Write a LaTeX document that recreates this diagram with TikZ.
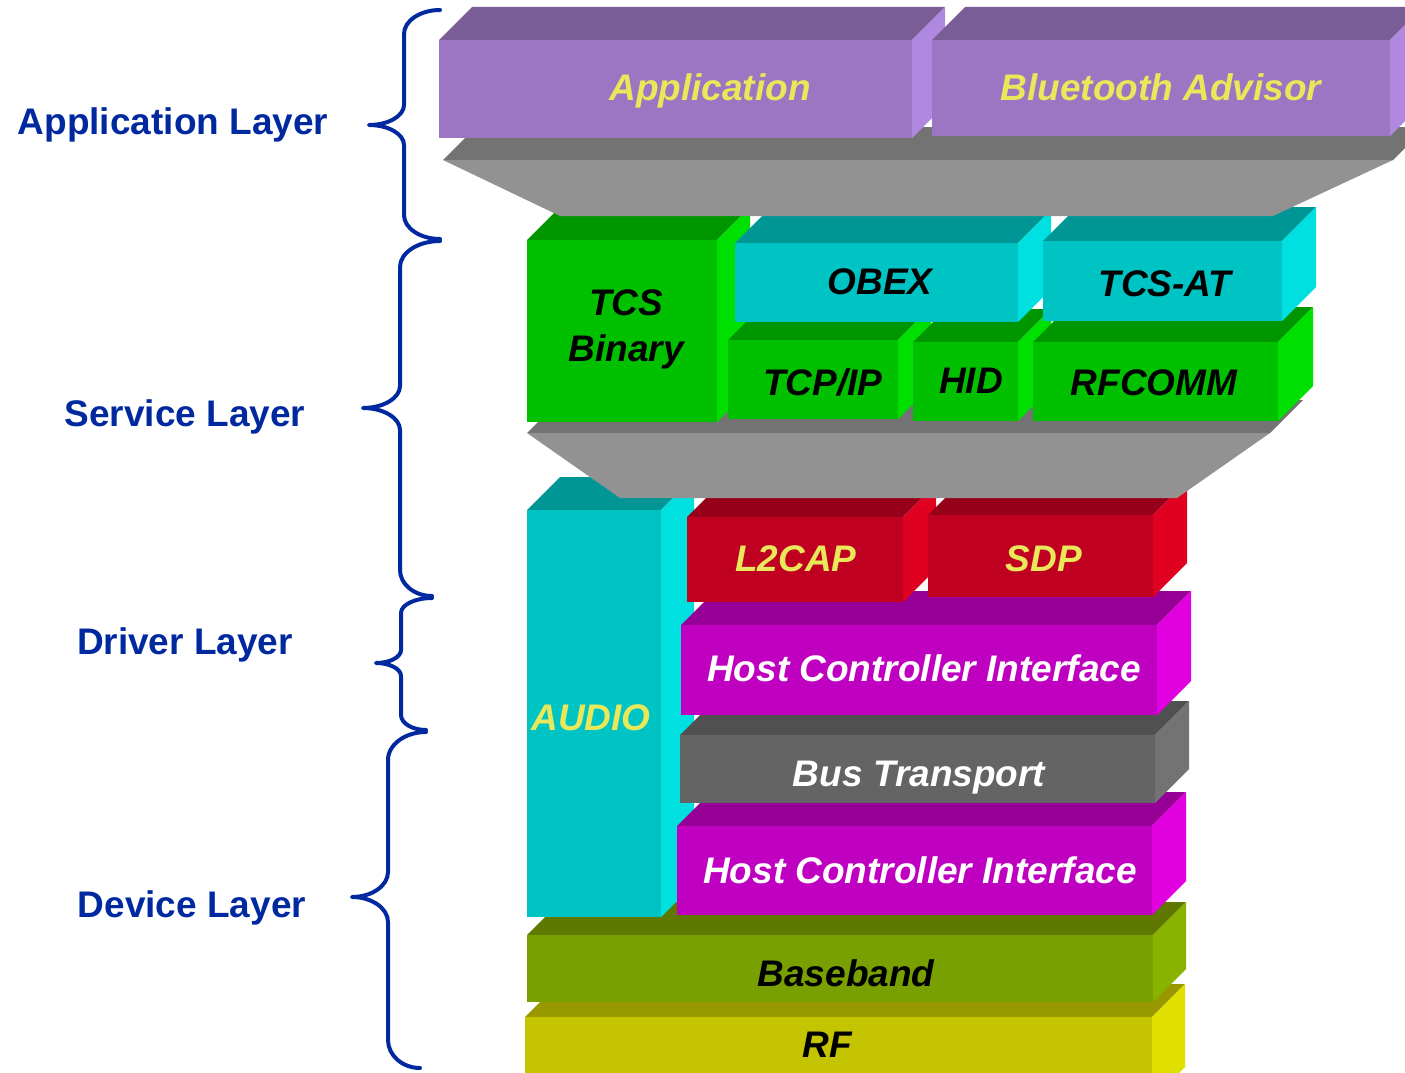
\documentclass[tikz,border=0pt]{standalone}
\usepackage{fontspec}
\setmainfont{Liberation Sans}
\definecolor{labelblue}{RGB}{0,41,160}
\definecolor{txtyellow}{RGB}{232,232,90}
\definecolor{appF}{RGB}{156,118,194}
\definecolor{appT}{RGB}{122,92,150}
\definecolor{appS}{RGB}{176,136,224}
\definecolor{grayT}{RGB}{115,115,115}
\definecolor{grayF}{RGB}{146,146,146}
\definecolor{grnF}{RGB}{0,192,0}
\definecolor{grnT}{RGB}{0,150,0}
\definecolor{grnS}{RGB}{0,224,0}
\definecolor{cynF}{RGB}{0,196,196}
\definecolor{cynT}{RGB}{0,150,150}
\definecolor{cynS}{RGB}{0,224,224}
\definecolor{redF}{RGB}{192,0,32}
\definecolor{redT}{RGB}{150,0,24}
\definecolor{redS}{RGB}{224,0,32}
\definecolor{magF}{RGB}{192,0,192}
\definecolor{magT}{RGB}{150,0,150}
\definecolor{magS}{RGB}{224,0,224}
\definecolor{busF}{RGB}{100,100,100}
\definecolor{busT}{RGB}{80,80,80}
\definecolor{busS}{RGB}{115,115,115}
\definecolor{bbF}{RGB}{120,160,0}
\definecolor{bbT}{RGB}{94,120,0}
\definecolor{bbS}{RGB}{136,180,0}
\definecolor{rfF}{RGB}{196,196,0}
\definecolor{rfT}{RGB}{152,152,0}
\definecolor{rfS}{RGB}{224,224,0}
\tikzset{
  lbl/.style={font=\fontsize{37}{40}\selectfont\bfseries, text=labelblue, inner sep=0pt, text height=26.5pt, text depth=0pt},
  boxtxt/.style={font=\fontsize{37}{40}\selectfont\bfseries\itshape, inner sep=0pt, text height=26.5pt, text depth=0pt},
  bracestyle/.style={draw=labelblue, line width=4pt, line cap=round, line join=round}
}
% 3D box: x1,y1 (front top-left), x2,y2 (front bottom-right), depth, front, top, side
\newcommand\layerbox[8]{%
  \fill[#7] (#1,#2) -- ({#1+#5},{#2-#5}) -- ({#3+#5},{#2-#5}) -- (#3,#2) -- cycle;
  \fill[#8] (#3,#2) -- ({#3+#5},{#2-#5}) -- ({#3+#5},{#4-#5}) -- (#3,#4) -- cycle;
  \fill[#6] (#1,#2) rectangle (#3,#4);
}
% brace: xtop, ytop, xspine, xtip, ymid, ybottom, end radius, xbottom, tip radius
\newcommand\bracepath[9]{%
  \draw[bracestyle] (#1,#2)
    .. controls ({#1-0.55*(#1-#3)},#2) and (#3,{#2+0.45*#7}) .. (#3,{#2+#7})
    -- (#3,{#5-#9})
    .. controls (#3,{#5-0.45*#9}) and ({#4+0.55*(#3-#4)},#5) .. (#4,#5)
    .. controls ({#4+0.55*(#3-#4)},#5) and (#3,{#5+0.45*#9}) .. (#3,{#5+#9})
    -- (#3,{#6-#7})
    .. controls (#3,{#6-0.45*#7}) and ({#8-0.55*(#8-#3)},#6) .. (#8,#6);
}
\begin{document}
\begin{tikzpicture}[x=1pt,y=-1pt]
\useasboundingbox (0,0) rectangle (1405,1073);
\clip (0,0) rectangle (1405,1073);

% ---- device / driver layers (bottom first)
\layerbox{525}{1017}{1152}{1100}{33}{rfF}{rfT}{rfS}
\layerbox{527}{935}{1153}{1002}{33}{bbF}{bbT}{bbS}
\layerbox{527}{510}{661}{917}{33}{cynF}{cynT}{cynS}
\layerbox{677}{826}{1152}{915}{34}{magF}{magT}{magS}
\layerbox{680}{735}{1155}{803}{34}{busF}{busT}{busS}
\layerbox{681}{625}{1157}{715}{34}{magF}{magT}{magS}
\layerbox{687}{517}{903}{602}{33}{redF}{redT}{redS}
\layerbox{928}{515}{1153}{597}{34}{redF}{redT}{redS}

% ---- lower gray platform
\fill[grayT] (527,433) -- (560,400) -- (1303,400) -- (1270,433) -- cycle;
\fill[grayF] (527,433) -- (1270,433) -- (1177,498) -- (620,498) -- cycle;

% ---- service boxes
\layerbox{527}{240}{717}{422}{33}{grnF}{grnT}{grnS}
\layerbox{728}{340}{898}{419}{33}{grnF}{grnT}{grnS}
\layerbox{913}{342}{1018}{421}{33}{grnF}{grnT}{grnS}
\layerbox{1033}{342}{1278}{421}{35}{grnF}{grnT}{grnS}
\layerbox{735}{243}{1018}{322}{33}{cynF}{cynT}{cynS}
\layerbox{1043}{241}{1282}{321}{34}{cynF}{cynT}{cynS}

% ---- upper gray platform
\fill[grayT] (443,160) -- (476,127) -- (1426,127) -- (1393,160) -- cycle;
\fill[grayF] (443,160) -- (1393,160) -- (1273,216) -- (560,216) -- cycle;

% ---- application boxes
\layerbox{439}{40}{912}{138}{33}{appF}{appT}{appS}
\layerbox{932}{40}{1390}{136}{33}{appF}{appT}{appS}

% ---- box texts
\node[boxtxt, text=txtyellow] (app) at (710,87) {Application};
\node[boxtxt, text=txtyellow] (bta) at (1161,87) {Bluetooth Advisor};
\node[boxtxt] (tcs1) at (626,302) {TCS};
\node[boxtxt] (tcs2) at (626,348) {Binary};
\node[boxtxt] (obex) at (880,281) {OBEX};
\node[boxtxt] (tcsat) at (1165,283) {TCS-AT};
\node[boxtxt] (tcpip) at (823,382) {TCP/IP};
\node[boxtxt] (hid) at (971,380) {HID};
\node[boxtxt] (rfcomm) at (1154,382) {RFCOMM};
\node[boxtxt, text=txtyellow] (audio) at (591,717) {AUDIO};
\node[boxtxt, text=txtyellow] (l2cap) at (796,558) {L2CAP};
\node[boxtxt, text=txtyellow] (sdp) at (1044,558) {SDP};
\node[boxtxt, text=white] (hci1) at (924,668) {Host Controller Interface};
\node[boxtxt, text=white] (bus) at (919,773) {Bus Transport};
\node[boxtxt, text=white] (hci2) at (920,870) {Host Controller Interface};
\node[boxtxt] (bb) at (846,973) {Baseband};
\node[boxtxt] (rf) at (827,1044) {RF};

% ---- layer labels
\node[lbl] (lapp) at (173,121) {Application Layer};
\node[lbl] (lsrv) at (185,413) {Service Layer};
\node[lbl] (ldrv) at (185,641) {Driver Layer};
\node[lbl] (ldev) at (192,904) {Device Layer};

% ---- braces
\bracepath{440}{10}{404}{369}{125}{239}{24}{440}{20}
\bracepath{440}{241}{400}{363}{408}{596}{26}{432}{22}
\bracepath{432}{598}{401}{376}{663}{730}{15}{426}{13}
\bracepath{426}{732}{388}{352}{897}{1068}{28}{420}{25}
\end{tikzpicture}
\end{document}
